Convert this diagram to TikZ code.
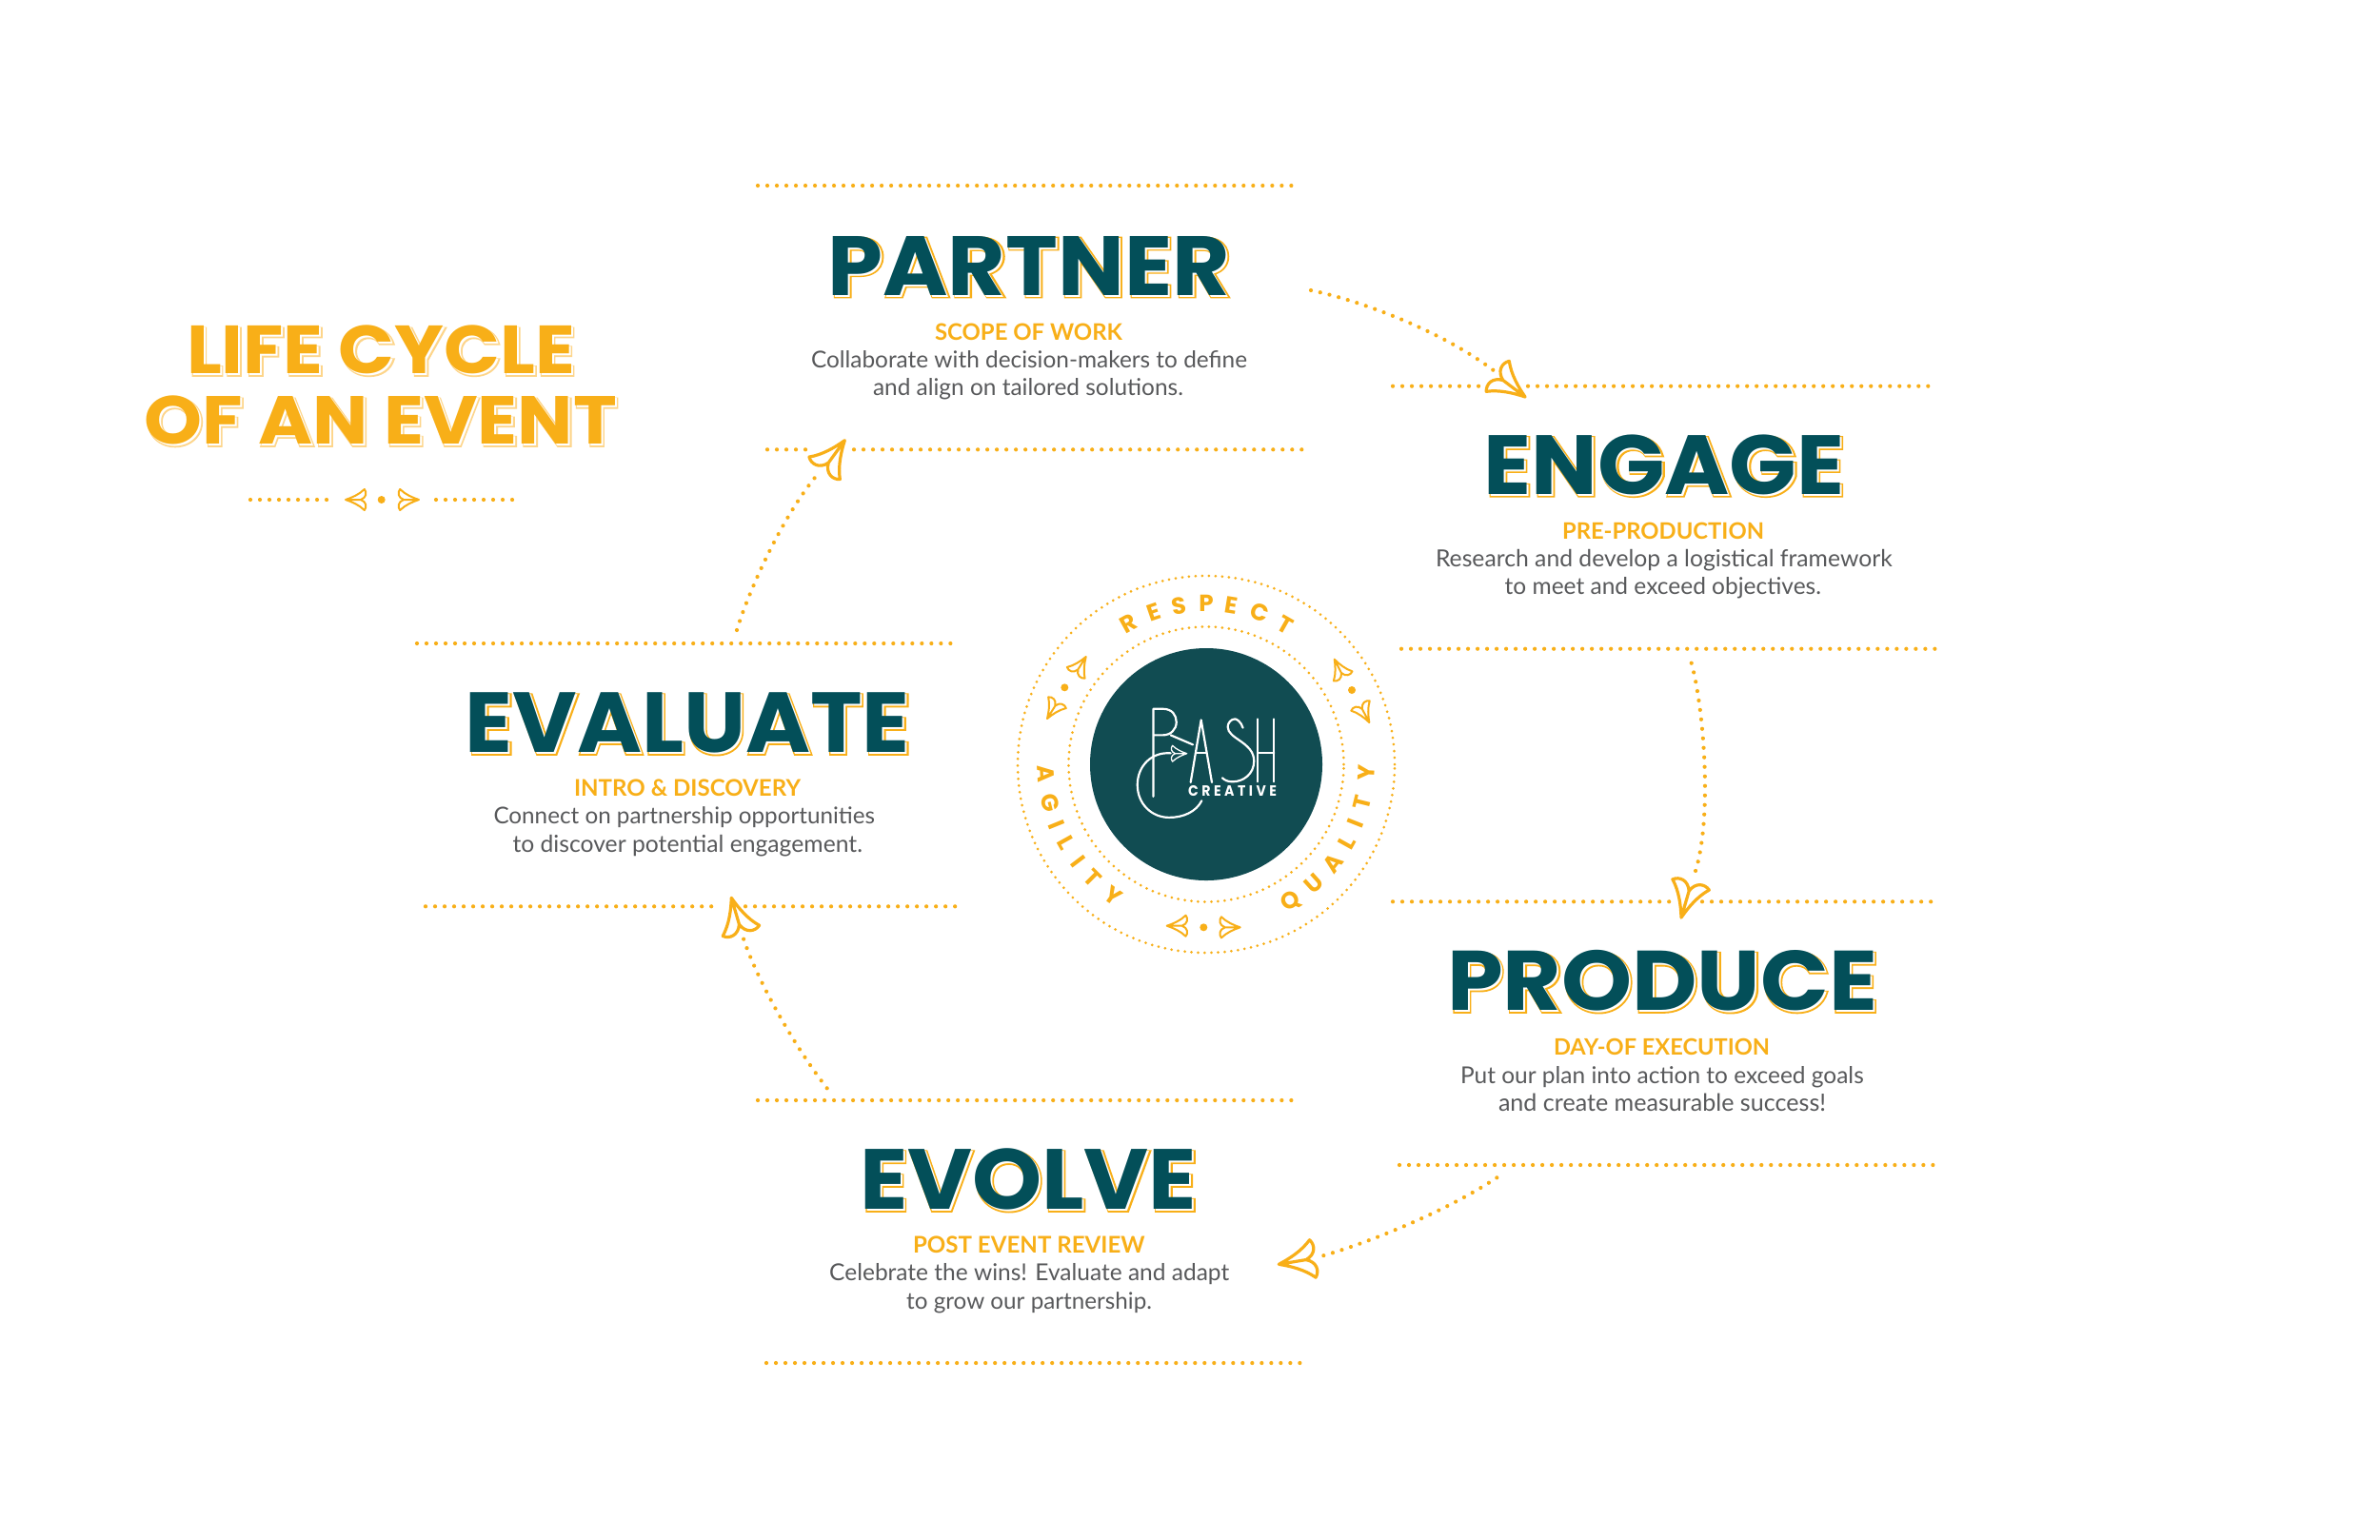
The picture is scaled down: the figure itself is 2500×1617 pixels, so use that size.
\documentclass[tikz,border=0pt]{standalone}
\usepackage{fontspec}
\setmainfont{Lato}
\newfontfamily\ttlOut[BoldFeatures={FakeBold=3}]{Poppins}
\newfontfamily\ttlFill{Poppins}
\newfontfamily\ttlTop{Poppins}
\newfontfamily\ringf{Poppins}
\definecolor{gold}{HTML}{F8AF18}
\definecolor{pale}{HTML}{FDD58A}
\definecolor{teal}{HTML}{034F59}
\definecolor{disc}{HTML}{114C52}
\definecolor{bodygrey}{HTML}{58595B}
\tikzset{
  fitnode/.style={anchor=base west,inner sep=0pt,outer sep=0pt},
  dotline/.style={draw=gold,line width=0.042cm,line cap=round,dash pattern=on 0cm off 0.1cm},
  ringdots/.style={draw=gold,line width=0.03cm,line cap=round,dash pattern=on 0cm off 0.07cm},
  ringletter/.style={inner sep=0pt,outer sep=0pt,text=gold,font=\ringf\fontsize{7}{8}\selectfont\bfseries},
  logoline/.style={draw=white,line width=0.022cm,line cap=round,line join=round},
}
% #1 x, #2 y (tip), #3 math angle, #4 scale, #5 line width (cm), #6 colour
\newcommand{\plane}[6]{%
  \begin{scope}[shift={(#1,#2)},rotate=#3,x=#4*0.01cm,y=#4*0.01cm]
    \draw[#6,line width=#5cm,line join=round,line cap=round]
      (0,0) .. controls (-12,4) and (-26,10) .. (-36,20)
      .. controls (-41,14) and (-40,4) .. (-29,0) -- (0,0)
      .. controls (-12,-4) and (-26,-10) .. (-36,-20)
      .. controls (-41,-14) and (-40,-4) .. (-29,0);
  \end{scope}}
% name, x0, x1, baseline, font, text
\newcommand{\fitlabel}[6]{%
  \pgfmathsetmacro\fitw{(#3-#2)*0.01}%
  \node[fitnode] (#1) at (#2,#4) {\resizebox{\fitw cm}{!}{#5\fontsize{20}{24}\selectfont #6}};}
% name, x0, x1, top, baseline, text, main colour, shadow colour, shift
\newcommand{\bigttl}[9]{%
  \pgfmathsetmacro\fitw{(#3-#2)*0.01}%
  \pgfmathsetmacro\fith{(#5-#4)*0.01}%
  \pgfmathsetmacro\sx{#2+#9}%
  \pgfmathsetmacro\sy{#5+#9}%
  \node[fitnode,text=#8] (#1-a) at (\sx,\sy) {\resizebox{\fitw cm}{\fith cm}{\ttlOut\fontsize{20}{24}\selectfont\bfseries #6}};
  \node[fitnode,text=white] (#1-b) at (\sx,\sy) {\resizebox{\fitw cm}{\fith cm}{\ttlFill\fontsize{20}{24}\selectfont\bfseries #6}};
  \node[fitnode,text=#7] (#1) at (#2,#5) {\resizebox{\fitw cm}{\fith cm}{\ttlTop\fontsize{20}{24}\selectfont\bfseries #6}};}
% name, x0, x1, y
\newcommand{\dotrule}[4]{%
  \coordinate (#1-a) at (#2,#4);
  \coordinate (#1-b) at (#3,#4);
  \draw[dotline] (#1-a) -- (#1-b);}
\begin{document}
\begin{tikzpicture}[x=0.01cm,y=-0.01cm]
\useasboundingbox (0,0) rectangle (2500,1617);
\fill[white] (0,0) rectangle (2500,1617);

% horizontal rules
\dotrule{pt}{796}{1361}{195}
\dotrule{pba}{806}{855}{472.3}
\dotrule{pbb}{897}{1371}{472.3}
\dotrule{eta}{1463}{1554}{405.7}
\dotrule{etb}{1605}{2030}{405.7}
\dotrule{eb}{1472}{2037}{681.7}
\dotrule{vt}{438}{1004}{676}
\dotrule{vba}{447}{752}{952.3}
\dotrule{vbb}{783}{1013}{952.3}
\dotrule{dta}{1463}{1757}{947.3}
\dotrule{dtb}{1788}{2030}{947.3}
\dotrule{db}{1470}{2037}{1224}
\dotrule{ot}{796}{1361}{1156}
\dotrule{ob}{805}{1371}{1432}
\dotrule{la}{263}{348}{525}
\dotrule{lb}{458}{542}{525}

% connectors
\coordinate (c1s) at (1377,305); \coordinate (c1e) at (1570,390);
\coordinate (c2s) at (1776.7,696.7); \coordinate (c2e) at (1779.7,919);
\coordinate (c3s) at (1572.3,1237.3); \coordinate (c3e) at (1387.3,1320);
\coordinate (c4s) at (868.7,1143.3); \coordinate (c4e) at (780,983.3);
\coordinate (c5s) at (774,662); \coordinate (c5e) at (858,499.3);
\draw[dotline] (c1s) .. controls (1430,316) and (1515,348) .. (c1e);
\draw[dotline] (c2s) .. controls (1789,740) and (1800,860) .. (c2e);
\draw[dotline] (c3s) .. controls (1520,1272) and (1440,1305) .. (c3e);
\draw[dotline] (c4s) .. controls (835,1100) and (795,1030) .. (c4e);
\draw[dotline] (c5s) .. controls (785,625) and (820,545) .. (c5e);

% big arrowheads
\plane{1602}{417}{-37}{1}{0.032}{gold}
\plane{1766}{964}{-106.3}{1}{0.032}{gold}
\plane{1343.3}{1328.3}{189.4}{1}{0.032}{gold}
\plane{768.3}{943.3}{106.3}{1}{0.032}{gold}
\plane{887.3}{462.7}{54}{1}{0.032}{gold}

% title
\bigttl{lifeA}{196}{604}{342}{392.7}{LIFE CYCLE}{gold}{pale}{2}
\bigttl{lifeB}{151.5}{648}{416}{466.7}{OF AN EVENT}{gold}{pale}{2}
\plane{363}{525}{180}{0.55}{0.02}{gold}
\plane{440}{525}{0}{0.55}{0.02}{gold}
\fill[gold] (400.7,525) circle (4);

% PARTNER
\bigttl{partner}{869.6}{1292}{248}{310}{PARTNER}{teal}{gold}{2}
\fitlabel{partnerS}{982}{1179}{357}{\bfseries\color{gold}}{SCOPE OF WORK}
\fitlabel{partnerA}{852}{1310}{386}{\color{bodygrey}}{Collaborate with decision-makers to define}
\fitlabel{partnerB}{917}{1243}{415}{\color{bodygrey}}{and align on tailored solutions.}
% ENGAGE
\bigttl{engage}{1558.3}{1937.3}{456.7}{519.3}{ENGAGE}{teal}{gold}{2}
\fitlabel{engageS}{1641}{1853}{566}{\bfseries\color{gold}}{PRE-PRODUCTION}
\fitlabel{engageA}{1508}{1987.7}{595}{\color{bodygrey}}{Research and develop a logistical framework}
\fitlabel{engageB}{1580.7}{1913}{624}{\color{bodygrey}}{to meet and exceed objectives.}
% PRODUCE
\bigttl{produce}{1520}{1972}{998.3}{1061.5}{PRODUCE}{teal}{gold}{2}
\fitlabel{produceS}{1632}{1859}{1108}{\bfseries\color{gold}}{DAY-OF EXECUTION}
\fitlabel{produceA}{1534}{1957.7}{1138}{\color{bodygrey}}{Put our plan into action to exceed goals}
\fitlabel{produceB}{1574}{1918}{1167}{\color{bodygrey}}{and create measurable success!}
% EVALUATE
\bigttl{evaluate}{488.7}{955.7}{727.7}{790.5}{EVALUATE}{teal}{gold}{2}
\fitlabel{evaluateS}{603}{841}{836}{\bfseries\color{gold}}{INTRO \& DISCOVERY}
\fitlabel{evaluateA}{518.5}{919}{865.7}{\color{bodygrey}}{Connect on partnership opportunities}
\fitlabel{evaluateB}{538.5}{906}{895}{\color{bodygrey}}{to discover potential engagement.}
% EVOLVE
\bigttl{evolve}{903}{1257}{1206.7}{1270.5}{EVOLVE}{teal}{gold}{2}
\fitlabel{evolveS}{959}{1202.7}{1316}{\bfseries\color{gold}}{POST EVENT REVIEW}
\fitlabel{evolveA}{871.2}{1291.2}{1345.7}{\color{bodygrey}}{Celebrate the wins! Evaluate and adapt}
\fitlabel{evolveB}{952.2}{1210}{1375}{\color{bodygrey}}{to grow our partnership.}

% central badge
\begin{scope}[shift={(1267,803)},x=0.01cm,y=0.01cm]
  \fill[disc] (0,0) circle (122);
  \draw[ringdots] (0,0) circle (144.5);
  \draw[ringdots] (0,0) circle (198);
  \foreach \ltr/\ang [count=\k] in {R/118.9,E/108.9,S/99.7,P/90,E/80.9,C/70.6,T/60.4}
    \node[ringletter,rotate=\ang-90,name=resp\k] at (\ang:169) {\ltr};
  \foreach \ltr/\ang [count=\k] in {A/183.4,G/194,I/202,L/209.2,I/217.1,T/225,Y/234.8}
    \node[ringletter,rotate=\ang+90,name=agil\k] at (\ang:169) {\ltr};
  \foreach \ltr/\ang [count=\k] in {Q/-58.4,U/-48,A/-38.1,L/-29.1,I/-21.5,T/-13.9,Y/-3}
    \node[ringletter,rotate=\ang+90,name=qual\k] at (\ang:169) {\ltr};
\end{scope}
\plane{1140.7}{690}{58}{0.55}{0.02}{gold}
\plane{1100}{755}{238}{0.55}{0.02}{gold}
\plane{1401.7}{692.7}{117}{0.55}{0.02}{gold}
\plane{1438.3}{759}{-62}{0.55}{0.02}{gold}
\plane{1225.7}{972.7}{180}{0.55}{0.02}{gold}
\plane{1302.7}{974.3}{0}{0.55}{0.02}{gold}
\fill[gold] (1118.3,722.3) circle (4);
\fill[gold] (1420,725) circle (4);
\fill[gold] (1264.3,974.3) circle (4);

% logo, in coordinates of a 3x crop
\begin{scope}[shift={(1050,590)},x=0.003333cm,y=-0.003333cm]
  \draw[logoline] (485,742) -- (485,465) -- (515,465) .. controls (545,465) and (558,485) .. (558,507) .. controls (558,530) and (540,548) .. (515,548) -- (485,548);
  \draw[logoline] (540,548) -- (610,578);
  \draw[logoline] (540,605) .. controls (480,600) and (435,645) .. (435,705) .. controls (435,765) and (480,808) .. (535,808) .. controls (580,808) and (620,790) .. (638,755);
  \draw[logoline] (603,697) -- (636,500) -- (670,697);
  \draw[logoline] (620,605) -- (652,605);
  \draw[logoline] (768,525) .. controls (762,505) and (748,497) .. (743,497) .. controls (730,497) and (720,510) .. (720,522) .. controls (720,560) and (803,570) .. (803,630) .. controls (803,670) and (770,695) .. (735,695) .. controls (720,695) and (710,690) .. (703,683);
  \draw[logoline] (815,497) -- (815,695);
  \draw[logoline] (866,497) -- (866,695);
  \draw[logoline] (815,605) -- (866,605);
\end{scope}
\plane{1246.7}{791.7}{0}{0.42}{0.013}{white}
\node[fitnode,text=white] (creative) at (1248,836.7) {\resizebox{0.93cm}{0.11cm}{\ringf\addfontfeatures{LetterSpace=25}\fontsize{20}{24}\selectfont\bfseries CREATIVE}};
\end{tikzpicture}
\end{document}
